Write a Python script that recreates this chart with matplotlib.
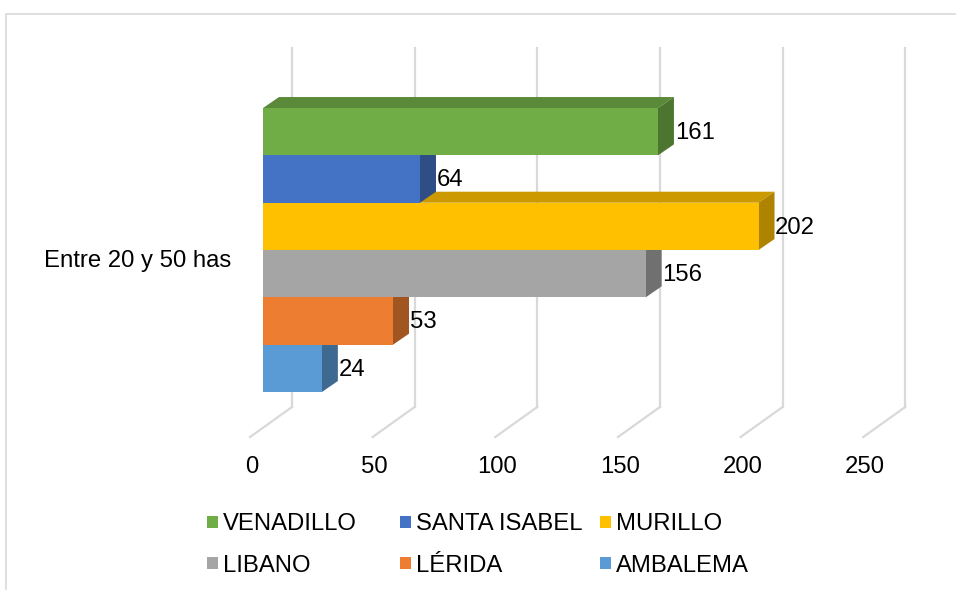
import matplotlib
matplotlib.use("Agg")
import matplotlib.pyplot as plt
from matplotlib.patches import Polygon, Rectangle, Patch
import matplotlib.colors as mcolors

plt.rcParams['font.family'] = ['Liberation Sans', 'DejaVu Sans']

# ---- data ----
category = "Entre 20 y 50 has"
series = ["VENADILLO", "SANTA ISABEL", "MURILLO", "LIBANO", "LÉRIDA", "AMBALEMA"]
values = [161, 64, 202, 156, 53, 24]
colors = ["#70AD47", "#4472C4", "#FFC000", "#A5A5A5", "#ED7D31", "#5B9BD5"]
ticks = [0, 50, 100, 150, 200, 250]

# ---- geometry (style) ----
W, H = 956, 590
px_per_unit = 2.453          # x pixels per data unit
bar_px = 47.33               # pixels per bar slot
x0_px = 263                  # pixel of value 0 on bar front plane
y0_px = 131.7                # pixel centre of first bar
dx = 16 / px_per_unit        # depth offset (x)
dy = -11 / bar_px            # depth offset (y)
back_off = 29 / px_per_unit  # grid wall offset
front_off = -13 / px_per_unit
wall_top = (48 - y0_px) / bar_px
wall_bot = (407 - y0_px) / bar_px
floor_front = (437 - y0_px) / bar_px
fs = 17.2

fig = plt.figure(figsize=(W / 100, H / 100), dpi=100)
ax = fig.add_axes([0, 0, 1, 1])
ax.set_xlim(-x0_px / px_per_unit, (W - x0_px) / px_per_unit)
ax.set_ylim((H - y0_px) / bar_px, -y0_px / bar_px)
ax.axis('off')

# outer frame
fig.patches.append(Rectangle((6 / W, -0.1), 1.2, 1 - 14 / H + 0.1,
                             transform=fig.transFigure, fill=False,
                             edgecolor='#d9d9d9', linewidth=1.2))

grid_c = '#d9d9d9'
for t in ticks:
    ax.plot([t + back_off, t + back_off], [wall_top, wall_bot], color=grid_c, lw=1.6, zorder=1)
    ax.plot([t + back_off, t + front_off], [wall_bot, floor_front], color=grid_c, lw=1.6, zorder=1)
    ax.text(t - 4.5, (467 - y0_px) / bar_px, str(t), ha='center', va='center',
            fontsize=fs, color='black')

def shade(c, f):
    r, g, b = mcolors.to_rgb(c)
    return (r * f, g * f, b * f)

ypos = list(range(len(values)))
bars = ax.barh(ypos, values, height=1.0, left=0, color=colors, linewidth=0)
n = len(values)
for i, (v, c, p) in enumerate(zip(values, colors, bars)):
    z = 10 + (n - i) * 3
    top = Polygon([(0, i - 0.5), (dx, i - 0.5 + dy), (v + dx, i - 0.5 + dy), (v, i - 0.5)],
                  closed=True, facecolor=shade(c, 0.8), edgecolor='none', zorder=z)
    side = Polygon([(v, i - 0.5), (v + dx, i - 0.5 + dy), (v + dx, i + 0.5 + dy), (v, i + 0.5)],
                   closed=True, facecolor=shade(c, 0.68), edgecolor='none', zorder=z + 1)
    ax.add_patch(top)
    ax.add_patch(side)
    p.set_zorder(z + 2)
    ax.text(v + dx + 0.3, i + 0.03, str(v), ha='left', va='center', fontsize=fs,
            color='black', zorder=50)

ax.text((231 - x0_px) / px_per_unit, (261 - y0_px) / bar_px, category,
        ha='right', va='center', fontsize=fs, color='black')

# legend in three columns
col_x = [207, 400, 600]
rows_y = 545
for k, cx in enumerate(col_x):
    idx = [k, k + 3]
    handles = [Patch(facecolor=colors[j], edgecolor='none') for j in idx]
    labels = [series[j] for j in idx]
    fig.legend(handles, labels, loc='center left',
               bbox_to_anchor=(cx / W, 1 - rows_y / H), frameon=False,
               fontsize=fs, handlelength=0.45, handleheight=0.45,
               handletextpad=0.2, labelspacing=0.8, borderpad=0, borderaxespad=0)

fig.savefig('out.png', dpi=100)
